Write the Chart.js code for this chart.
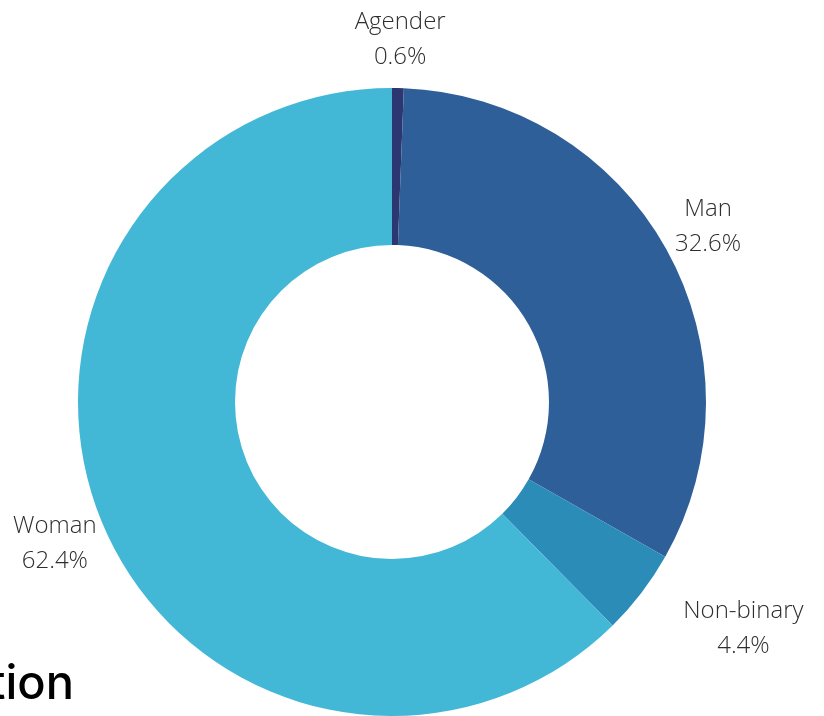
<!DOCTYPE html>
<html lang="en">
  <head>
    <meta charset="UTF-8" />
    <title>Gender</title>
    <script src="https://cdn.jsdelivr.net/npm/chart.js"></script>
    <style>
      html, body { margin: 0; padding: 0; background: #fff; overflow: hidden; }
      #wrap { position: relative; width: 824px; height: 716px; }
      #title { position: absolute; right: 750px; top: 658px; font: 500 47px Inter, sans-serif; line-height: 1; color: #000; white-space: nowrap; }
    </style>
  </head>
  <body>
    <div id="wrap">
      <canvas id="chart" width="824" height="716"></canvas>
      <div id="title">tion</div>
    </div>

    <script>
      const categories = ["Agender", "Man", "Non-binary", "Woman"];
      const shares = [0.6, 32.6, 4.4, 62.4];
      const colors = ["#2c3670", "#2f5f99", "#2b8cb7", "#42b7d6"];

      // small hand tweaks so the labels sit where the original put them
      const labelNudge = [[1, 7], [-4.5, 4.5], [38.5, 2.5], [10.5, 1.5]];

      // labels placed outside each slice
      const outsideLabels = {
        id: "outsideLabels",
        afterDraw(chart) {
          const c = chart.ctx;
          const meta = chart.getDatasetMeta(0);
          c.save();
          c.font = "300 24px 'Open Sans'";
          c.fillStyle = "#2e2e2e";
          c.textAlign = "center";
          c.textBaseline = "middle";
          const lineH = 35;
          meta.data.forEach((arc, i) => {
            const p = arc.getProps(["x", "y", "startAngle", "endAngle", "outerRadius"], true);
            const mid = (p.startAngle + p.endAngle) / 2;
            const lines = [categories[i], shares[i].toFixed(1) + "%"];
            const w = Math.max(...lines.map(t => c.measureText(t).width));
            const h = lineH * 2;
            const r = p.outerRadius + 20;
            const cx = p.x + Math.cos(mid) * (r + w / 2) + labelNudge[i][0];
            const cy = p.y + Math.sin(mid) * r + Math.sin(mid) * h / 2 + labelNudge[i][1];
            c.fillText(lines[0], cx, cy - lineH / 2);
            c.fillText(lines[1], cx, cy + lineH / 2);
          });
          c.restore();
        }
      };

      new Chart(document.getElementById("chart"), {
        type: "doughnut",
        data: {
          labels: categories,
          datasets: [{
            data: shares,
            backgroundColor: colors,
            borderWidth: 0
          }]
        },
        options: {
          responsive: false,
          animation: false,
          cutout: "50%",
          layout: { padding: { left: 78, right: 118, top: 88, bottom: 0 } },
          plugins: {
            legend: { display: false },
            tooltip: { enabled: false }
          }
        },
        plugins: [outsideLabels]
      });
    </script>
  </body>
</html>
